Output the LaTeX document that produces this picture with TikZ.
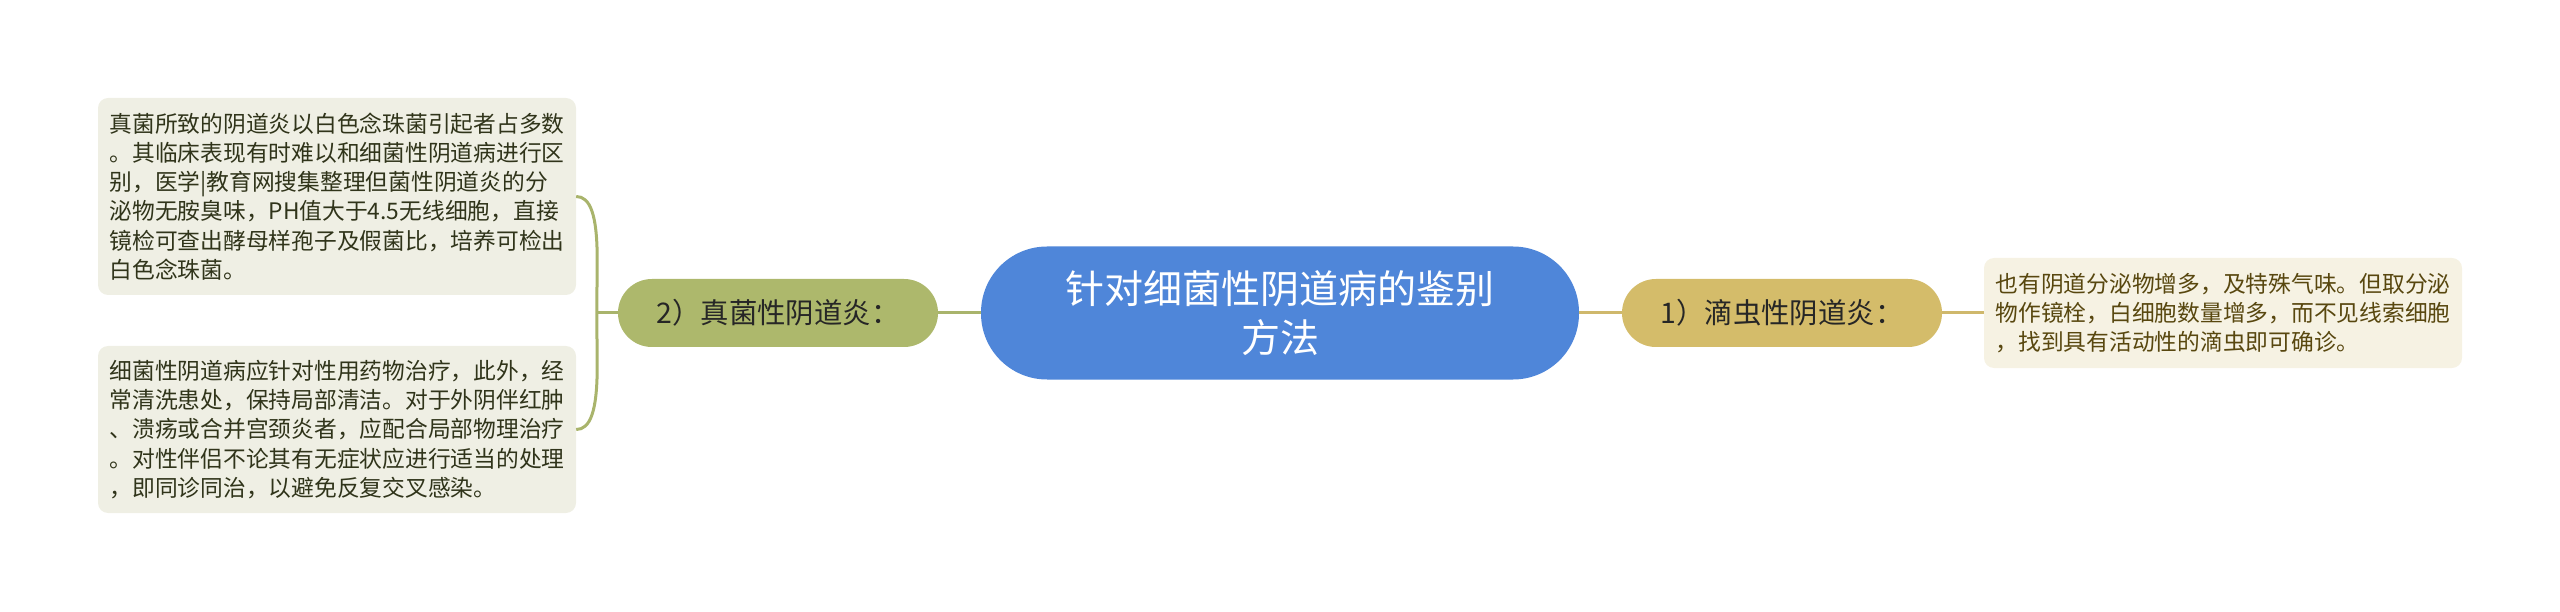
\documentclass[tikz,border=0pt]{standalone}
\usepackage{fontspec}
\setmainfont{Noto Sans CJK SC}
\usetikzlibrary{calc,positioning}
\definecolor{rootblue}{HTML}{4F86D9}
\definecolor{olivefill}{HTML}{ADB86C}
\definecolor{goldfill}{HTML}{D4BC6A}
\definecolor{oliveline}{HTML}{A9B46C}
\definecolor{goldline}{HTML}{CFB86C}
\definecolor{oliveleaf}{HTML}{EFEFE4}
\definecolor{goldleaf}{HTML}{F6F2E3}
\definecolor{olivetext}{HTML}{30341A}
\definecolor{goldtext}{HTML}{58470F}
\tikzset{
  root/.style = {
    fill=rootblue, text=white, rounded corners=66pt,
    minimum width=598pt, minimum height=133pt, align=center,
    font=\fontsize{39}{49}\selectfont
  },
  branch/.style = {
    rounded corners=33.9pt, text=black!85,
    minimum width=320pt, minimum height=68pt,
    font=\fontsize{28.4}{32}\selectfont
  },
  leaf/.style = {
    rounded corners=10pt, text width=455pt, inner xsep=11.5pt,
    align=left, font=\fontsize{22.75}{29.3}\selectfont
  },
  linkolive/.style = {
    line width=3pt, draw=oliveline
  },
  linkgold/.style = {
    line width=3pt, draw=goldline
  }
}

\begin{document}
\begin{tikzpicture}[x=1pt, y=-1pt]
    \useasboundingbox (0,0) rectangle (2560,612);

    \node[root] (root) at (1280,313) {针对细菌性阴道病的鉴别\\方法};
    \node[branch, fill=olivefill] (fungal) at (778,313) {2）真菌性阴道炎：};
    \node[branch, fill=goldfill] (tricho) at (1782,313) {1）滴虫性阴道炎：};

    \node[leaf, fill=oliveleaf, text=olivetext, minimum height=197pt] (fungaltop) at (337,196.5)
      {真菌所致的阴道炎以白色念珠菌引起者占多数\\
       。其临床表现有时难以和细菌性阴道病进行区\\
       别，医学|教育网搜集整理但菌性阴道炎的分\\
       泌物无胺臭味，PH值大于4.5无线细胞，直接\\
       镜检可查出酵母样孢子及假菌比，培养可检出\\
       白色念珠菌。};
    \node[leaf, fill=oliveleaf, text=olivetext, minimum height=167pt] (fungalbot) at (337,429.5)
      {细菌性阴道病应针对性用药物治疗，此外，经\\
       常清洗患处，保持局部清洁。对于外阴伴红肿\\
       、溃疡或合并宫颈炎者，应配合局部物理治疗\\
       。对性伴侣不论其有无症状应进行适当的处理\\
       ，即同诊同治，以避免反复交叉感染。};
    \node[leaf, fill=goldleaf, text=goldtext, minimum height=110pt] (tricholeaf) at (2223,313)
      {也有阴道分泌物增多，及特殊气味。但取分泌\\
       物作镜栓，白细胞数量增多，而不见线索细胞\\
       ，找到具有活动性的滴虫即可确诊。};

    % left side
    \draw[linkolive] (root.west) -- (fungal.east);
    \draw[linkolive] (fungal.west) -- ++(-21,0) coordinate (fork);
    \draw[linkolive] (fork) -- ($(fungaltop.east)+(21,63)$)
      .. controls ($(fungaltop.east)+(21,18)$) and ($(fungaltop.east)+(14,0)$) .. (fungaltop.east);
    \draw[linkolive] (fork) -- ($(fungalbot.east)+(21,-63)$)
      .. controls ($(fungalbot.east)+(21,-18)$) and ($(fungalbot.east)+(14,0)$) .. (fungalbot.east);

    % right side
    \draw[linkgold] (root.east) -- (tricho.west);
    \draw[linkgold] (tricho.east) -- (tricholeaf.west);
\end{tikzpicture}
\end{document}
